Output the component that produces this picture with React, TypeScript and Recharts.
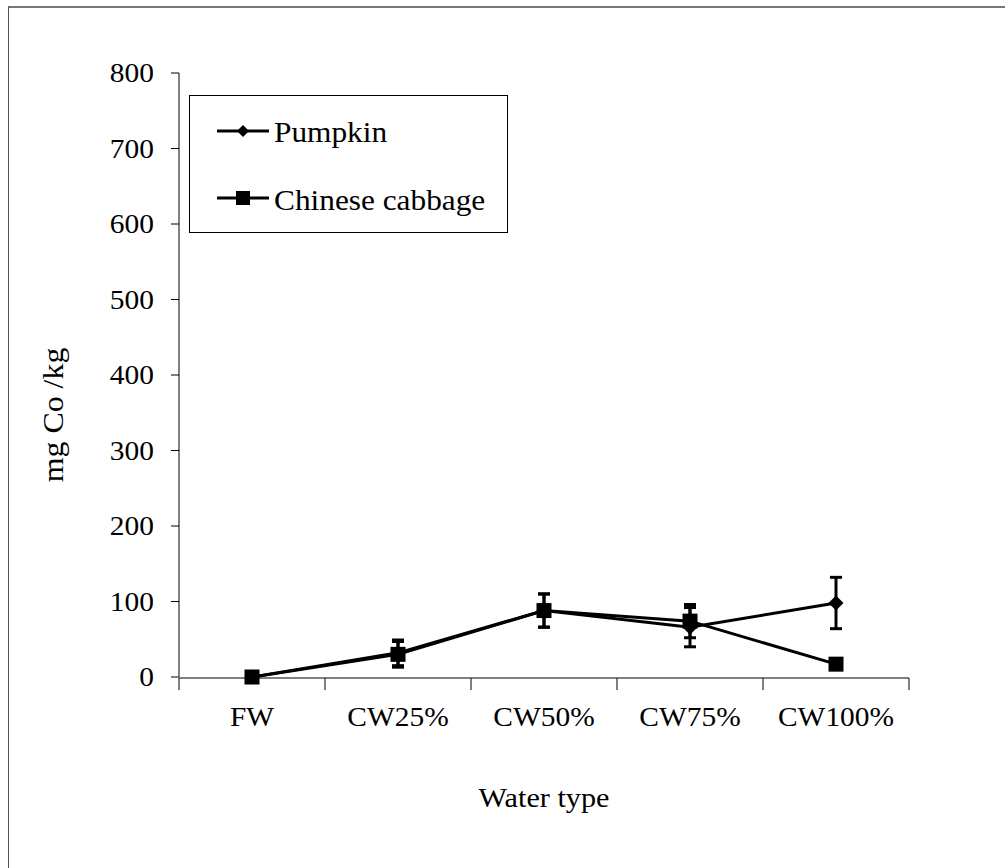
import { LineChart, Line, XAxis, YAxis, ErrorBar } from "recharts";

const categories = ["FW", "CW25%", "CW50%", "CW75%", "CW100%"];
const pumpkin = [0, 32, 88, 66, 98];
const pumpkinErr = [0, 17, 22, 26, 34];
const cabbage = [0, 30, 88, 74, 17];
const cabbageErr = [0, 17, 22, 22, 0];
const yTicks = [0, 100, 200, 300, 400, 500, 600, 700, 800];
// band edges for the category tick marks
const bandEdges = [0, 1, 2, 3, 4, 5];

const data = categories.map((type, i) => ({
  type,
  pos: i + 0.5,
  pumpkin: pumpkin[i],
  pumpkinErr: pumpkinErr[i],
  cabbage: cabbage[i],
  cabbageErr: cabbageErr[i],
}));

const FONT = '"Liberation Serif", "Times New Roman", serif';

const EmptyTick = (props: any) => <g key={props.index} />;

const XTick = (props: any) => {
  const { x, y, payload } = props;
  return (
    <g transform={`translate(${x},${y + 49}) scale(1.09,1)`}>
      <text textAnchor="middle" fontFamily={FONT} fontSize={27} fill="#000">
        {payload.value}
      </text>
    </g>
  );
};

const YTick = (props: any) => {
  const { x, y, payload } = props;
  return (
    <g transform={`translate(${x},${y + 9}) scale(1.09,1)`}>
      <text textAnchor="end" fontFamily={FONT} fontSize={27} fill="#000">
        {payload.value}
      </text>
    </g>
  );
};

const XTitle = (props: any) => {
  const { viewBox } = props;
  const cx = viewBox.x + viewBox.width / 2;
  return (
    <g transform={`translate(${cx},${viewBox.y + 130}) scale(1.12,1)`}>
      <text textAnchor="middle" fontFamily={FONT} fontSize={27} fill="#000">
        Water type
      </text>
    </g>
  );
};

const YTitle = (props: any) => {
  const { viewBox } = props;
  const cy = viewBox.y + viewBox.height / 2 + 40;
  return (
    <g transform={`translate(${viewBox.x + 63},${cy}) rotate(-90) scale(1.1,1)`}>
      <text textAnchor="middle" fontFamily={FONT} fontSize={29} fill="#000">
        mg Co /kg
      </text>
    </g>
  );
};

const diamond = (cx: number, cy: number, r: number) =>
  `M${cx},${cy - r}L${cx + r},${cy}L${cx},${cy + r}L${cx - r},${cy}Z`;

const DiamondDot = (props: any) => {
  const { cx, cy, index } = props;
  return <path key={`d-${index}`} d={diamond(cx, cy, 7.5)} fill="#000" />;
};

const SquareDot = (props: any) => {
  const { cx, cy, index } = props;
  return <rect key={`s-${index}`} x={cx - 7.5} y={cy - 7.5} width={15} height={15} fill="#000" />;
};

function LegendBox() {
  return (
    <svg
      width={319}
      height={138}
      style={{ position: "absolute", left: 189, top: 95, border: "1px solid #000", boxSizing: "border-box", background: "#fff" }}
    >
      <line x1={27} y1={35} x2={79} y2={35} stroke="#000" strokeWidth={3} />
      <path d={diamond(53, 35, 6)} fill="#000" />
      <g transform="translate(84,46) scale(1.08,1)">
        <text fontFamily={FONT} fontSize={29} fill="#000">Pumpkin</text>
      </g>
      <line x1={27} y1={102} x2={79} y2={102} stroke="#000" strokeWidth={3} />
      <rect x={46} y={95} width={14} height={14} fill="#000" />
      <g transform="translate(84,114) scale(1.08,1)">
        <text fontFamily={FONT} fontSize={29} fill="#000">Chinese cabbage</text>
      </g>
    </svg>
  );
}

export default function App() {
  return (
    <div
      style={{
        position: "absolute",
        left: 0,
        top: 0,
        width: 1005,
        height: 868,
        background: "#fff",
        overflow: "hidden",
      }}
    >
      <div
        style={{
          position: "absolute",
          left: 8,
          top: 6,
          right: -10,
          bottom: -10,
          borderTop: "2px solid #777",
          borderLeft: "1px solid #555",
        }}
      />
      <LineChart
        width={1005}
        height={868}
        data={data}
        margin={{ top: 73, right: 96, bottom: 189, left: 0 }}
      >
        <XAxis
          xAxisId="edges"
          dataKey="pos"
          type="number"
          domain={[0, 5]}
          ticks={bandEdges}
          allowDataOverflow
          height={1}
          interval={0}
          tick={EmptyTick}
          tickSize={12}
          axisLine={{ stroke: "#000", strokeWidth: 1 }}
          tickLine={{ stroke: "#000", strokeWidth: 1 }}
        />
        <XAxis
          xAxisId="cat"
          dataKey="type"
          height={1}
          padding={{ left: 73, right: 73 }}
          axisLine={false}
          tickLine={false}
          tickSize={0}
          tickMargin={0}
          interval={0}
          tick={<XTick />}
          label={<XTitle />}
        />
        <YAxis
          width={179}
          domain={[0, 800]}
          ticks={yTicks}
          interval={0}
          tickSize={8}
          tickMargin={17}
          axisLine={{ stroke: "#000", strokeWidth: 1 }}
          tickLine={{ stroke: "#000", strokeWidth: 1 }}
          tick={<YTick />}
          label={<YTitle />}
        />
        <Line
          xAxisId="cat"
          type="linear"
          dataKey="pumpkin"
          stroke="#000"
          strokeWidth={3}
          dot={DiamondDot}
          activeDot={false}
          isAnimationActive={false}
        >
          <ErrorBar dataKey="pumpkinErr" direction="y" width={6} stroke="#000" strokeWidth={3} />
        </Line>
        <Line
          xAxisId="cat"
          type="linear"
          dataKey="cabbage"
          stroke="#000"
          strokeWidth={3}
          dot={SquareDot}
          activeDot={false}
          isAnimationActive={false}
        >
          <ErrorBar dataKey="cabbageErr" direction="y" width={6} stroke="#000" strokeWidth={3} />
        </Line>
      </LineChart>
      <LegendBox />
    </div>
  );
}
